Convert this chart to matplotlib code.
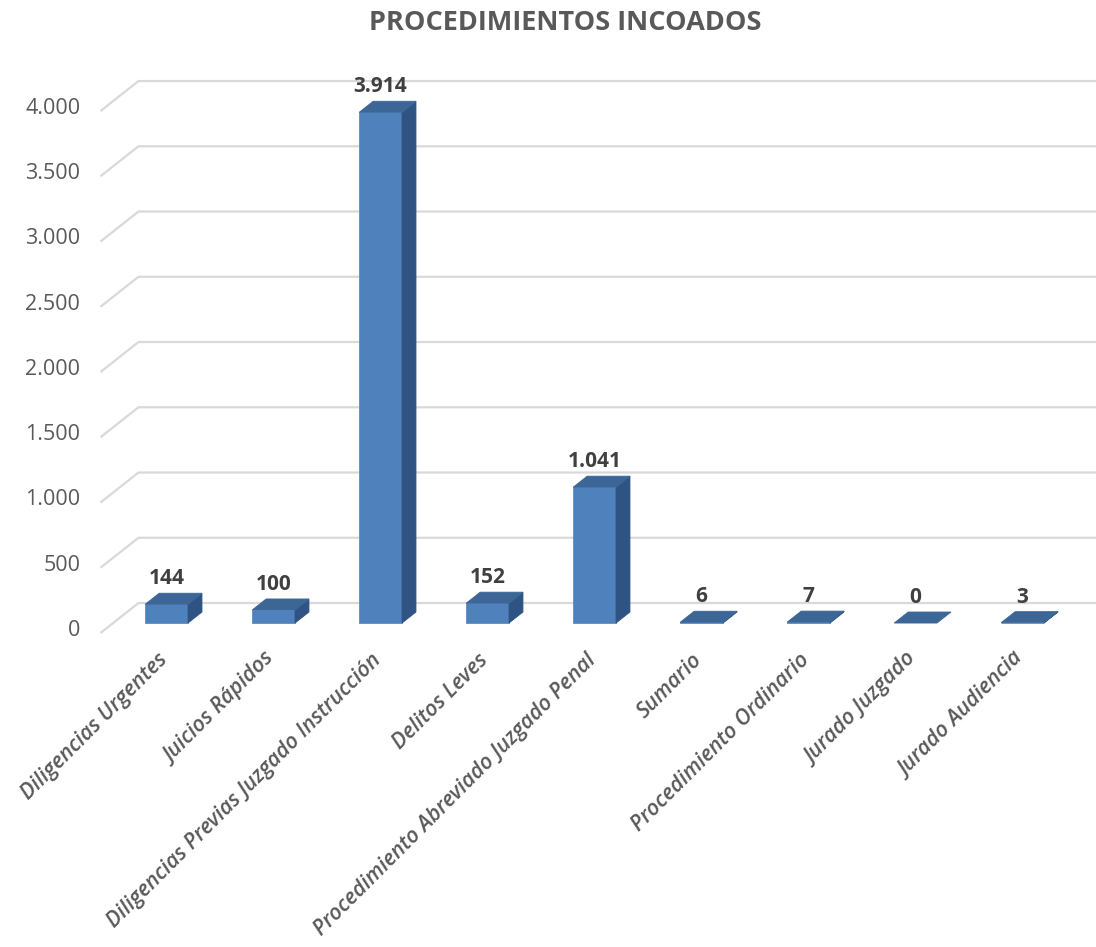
import numpy as np
import matplotlib
matplotlib.use('Agg')
import matplotlib.pyplot as plt
from matplotlib.patches import Polygon

plt.rcParams['font.family'] = ['Open Sans', 'DejaVu Sans']

categories = ['Diligencias Urgentes', 'Juicios Rápidos',
              'Diligencias Previas Juzgado Instrucción', 'Delitos Leves',
              'Procedimiento Abreviado Juzgado Penal', 'Sumario',
              'Procedimiento Ordinario', 'Jurado Juzgado', 'Jurado Audiencia']
values = [144, 100, 3914, 152, 1041, 6, 7, 0, 3]
value_labels = ['144', '100', '3.914', '152', '1.041', '6', '7', '0', '3']
yticks = np.arange(0, 4001, 500)
ytick_labels = ['0', '500', '1.000', '1.500', '2.000', '2.500', '3.000', '3.500', '4.000']

# fake 3D: full floor depth as an offset in data units
DX, DY = 0.355, 230.0
F_FRONT, F_BACK = 0.333, 0.70
BAR_W = 0.40

C_FRONT = '#4F81BD'
C_TOP = '#3C6696'
C_SIDE = '#2F5483'
C_GRID = '#D9D9D9'
C_TEXT = '#595959'
C_LABEL = '#404040'

fig = plt.figure(figsize=(10.96, 9.47), dpi=100)
ax = fig.add_axes([0, 0, 1, 1])
ax.set_xlim(-1.439, 8.804)
ax.set_ylim(-2406, 4851)
ax.axis('off')

# back wall gridlines and the left side wall diagonals
x0 = -0.5
for t, lab in zip(yticks, ytick_labels):
    ax.plot([x0, x0 + DX, 9.5], [t, t + DY, t + DY], color=C_GRID, lw=1.6,
            zorder=1, solid_capstyle='butt')
    ax.text(x0 - 0.19, t + 20, lab, ha='right', va='center', fontsize=15.5,
            color=C_TEXT)

ox0, oy0 = DX * F_FRONT, DY * F_FRONT
ox1, oy1 = DX * F_BACK, DY * F_BACK
for i, (v, lab) in enumerate(zip(values, value_labels)):
    xl, xr = i - BAR_W / 2, i + BAR_W / 2
    if v > 0:
        ax.add_patch(Polygon([(xl + ox0, oy0), (xr + ox0, oy0),
                              (xr + ox0, v + oy0), (xl + ox0, v + oy0)],
                             closed=True, fc=C_FRONT, ec='#5B8CC6', lw=0.6,
                             zorder=3))
        ax.add_patch(Polygon([(xr + ox0, oy0), (xr + ox1, oy1),
                              (xr + ox1, v + oy1), (xr + ox0, v + oy0)],
                             closed=True, fc=C_SIDE, ec=C_SIDE, lw=0.6,
                             zorder=3))
    ax.add_patch(Polygon([(xl + ox0, v + oy0), (xr + ox0, v + oy0),
                          (xr + ox1, v + oy1), (xl + ox1, v + oy1)],
                         closed=True, fc=C_TOP, ec=C_TOP, lw=0.6, zorder=4))
    ax.text(i + ox0, v + oy1 + 110, lab, ha='center', va='center',
            fontsize=15, fontweight='bold', color=C_LABEL, zorder=5)
    ax.text(i + ox0 - 0.09, -125, categories[i], ha='right', va='top',
            rotation=45, rotation_mode='anchor', fontsize=15.5,
            fontstyle='italic', fontweight='semibold', color=C_TEXT)

fig.text(565 / 1096, 1 - 23 / 947, 'PROCEDIMIENTOS INCOADOS', ha='center',
         va='center', fontsize=19.5, fontweight='bold', color=C_TEXT)

fig.savefig('out.png', dpi=100)
